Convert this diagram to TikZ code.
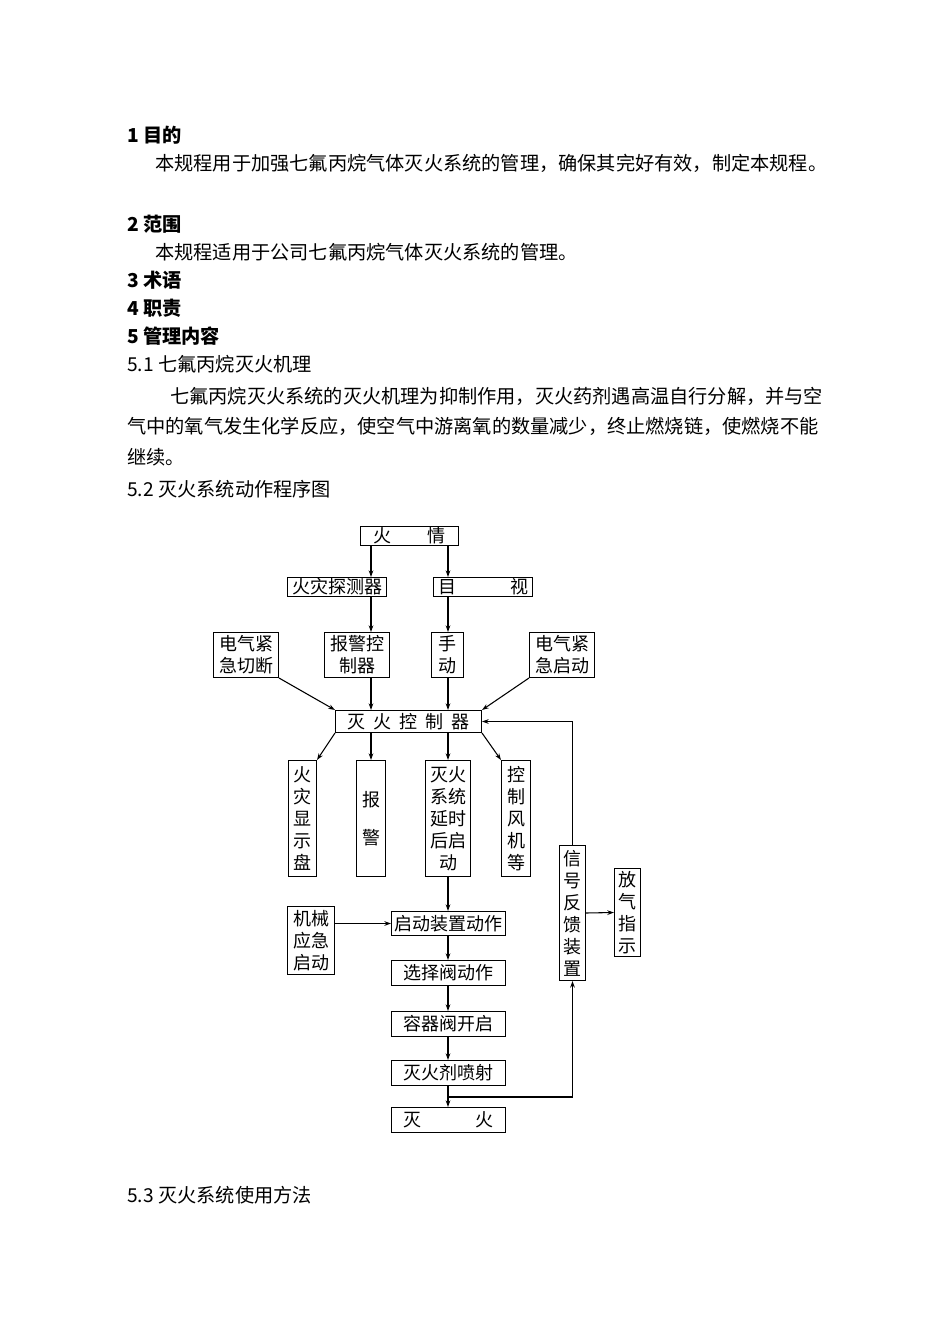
\documentclass[tikz,border=0pt]{standalone}
\usepackage{fontspec}
\setmainfont{Noto Sans CJK SC}
\usetikzlibrary{arrows.meta}
\begin{document}
\begin{tikzpicture}[x=0.75pt,y=-0.75pt,
 bx/.style={draw,line width=0.8pt,inner sep=0pt,font=\fontsize{13.5}{16.5}\selectfont,align=center},
 ar/.style={line width=0.8pt,-{Stealth[length=5pt,width=3.5pt]}},
 tx/.style={anchor=west,inner sep=0pt,font=\fontsize{14.4}{17}\selectfont},
 hd/.style={anchor=west,inner sep=0pt,font=\fontsize{14.4}{17}\selectfont\bfseries}]
\useasboundingbox (0,0) rectangle (950,1344);
\node[hd] (h1) at (127,135) {1 目的};
\node[tx] (t1) at (155,163) {本规程用于加强七氟丙烷气体灭火系统的管理，确保其完好有效，制定本规程。};
\node[hd] (h2) at (127,224) {2 范围};
\node[tx] (t2) at (155,252) {本规程适用于公司七氟丙烷气体灭火系统的管理。};
\node[hd] (h3) at (127,280) {3 术语};
\node[hd] (h4) at (127,308) {4 职责};
\node[hd] (h5) at (127,336) {5 管理内容};
\node[tx] (h51) at (127,364) {5.1 七氟丙烷灭火机理};
\node[tx] (t3) at (170,396) {七氟丙烷灭火系统的灭火机理为抑制作用，灭火药剂遇高温自行分解，并与空};
\node[tx] (t4) at (127,426) {气中的氧气发生化学反应，使空气中游离氧的数量减少，终止燃烧链，使燃烧不能};
\node[tx] (t5) at (127,457) {继续。};
\node[tx] (h52) at (127,489) {5.2 灭火系统动作程序图};
\node[tx] (h53) at (127,1195) {5.3 灭火系统使用方法};

\node[bx,minimum width=73.5pt,minimum height=14.2pt] (fq) at (409.5,536) {火\quad\quad 情};
\node[bx,minimum width=74.2pt,minimum height=14.2pt] (tc) at (337,587) {火灾探测器};
\node[bx,minimum width=74.2pt,minimum height=14.2pt] (ms) at (483,587) {目\qquad\quad 视};
\node[bx,minimum width=48.7pt,minimum height=33.7pt] (qd) at (246,655) {电气紧\\急切断};
\node[bx,minimum width=48.7pt,minimum height=33.7pt] (bj) at (357,655) {报警控\\制器};
\node[bx,minimum width=24pt,minimum height=33.7pt] (sd) at (447.5,655) {手\\动};
\node[bx,minimum width=48.7pt,minimum height=33.7pt] (qq) at (562,655) {电气紧\\急启动};
\node[bx,minimum width=109.5pt,minimum height=16.5pt] (kz) at (408.5,721.5) {灭\ \ 火\ \ 控\ \ 制\ \ 器};
\node[bx,minimum width=21pt,minimum height=87pt] (xs) at (302.5,818.5) {火\\灾\\显\\示\\盘};
\node[bx,minimum width=21.7pt,minimum height=87pt] (bw) at (371,818.5) {报\\[12pt]警};
\node[bx,minimum width=33.7pt,minimum height=87pt] (yy) at (448,818.5) {灭火\\系统\\延时\\后启\\动};
\node[bx,minimum width=21.7pt,minimum height=87pt] (fj) at (516,818.5) {控\\制\\风\\机\\等};
\node[bx,minimum width=19.5pt,minimum height=101.2pt] (xh) at (572.5,913) {信\\号\\反\\馈\\装\\置};
\node[bx,minimum width=19.5pt,minimum height=66pt] (fk) at (627.5,912.5) {放\\气\\指\\示};
\node[bx,minimum width=35.2pt,minimum height=51pt] (jx) at (311,940.5) {机械\\应急\\启动};
\node[bx,minimum width=85.5pt,minimum height=18pt] (a1) at (448.5,923.5) {启动装置动作};
\node[bx,minimum width=85.5pt,minimum height=18.7pt] (a2) at (448.5,973) {选择阀动作};
\node[bx,minimum width=85.5pt,minimum height=18.7pt] (a3) at (448.5,1024) {容器阀开启};
\node[bx,minimum width=85.5pt,minimum height=18.7pt] (a4) at (448.5,1073) {灭火剂喷射};
\node[bx,minimum width=85.5pt,minimum height=18.7pt] (a5) at (448.5,1120) {灭\qquad\quad 火};

\draw[ar] (fq.south -| 371,0) -- (tc.north -| 371,0);
\draw[ar] (fq.south -| 448,0) -- (ms.north -| 448,0);
\draw[ar] (tc.south -| 371,0) -- (bj.north -| 371,0);
\draw[ar] (ms.south -| 448,0) -- (sd.north -| 448,0);
\draw[ar] (bj.south -| 371,0) -- (kz.north -| 371,0);
\draw[ar] (sd.south -| 448,0) -- (kz.north -| 448,0);
\draw[ar] (qd.south east) -- (kz.north west);
\draw[ar] (qq.south west) -- (kz.north east);
\draw[ar] (kz.south west) -- (xs.north east);
\draw[ar] (kz.south -| 371,0) -- (bw.north);
\draw[ar] (kz.south -| 448,0) -- (yy.north);
\draw[ar] (kz.south east) -- (fj.north west);
\draw[ar] (xh.north) |- (kz.east);
\draw[ar] (yy.south) -- (a1.north -| yy.south);
\draw[ar] (jx.east |- a1) -- (a1.west);
\draw[ar] (a1.south -| 448,0) -- (a2.north -| 448,0);
\draw[ar] (a2.south -| 448,0) -- (a3.north -| 448,0);
\draw[ar] (a3.south -| 448,0) -- (a4.north -| 448,0);
\draw[ar] (a4.south -| 448,0) -- (a5.north -| 448,0);
\coordinate (br) at (448,1097);
\draw[ar] (br) -| (xh.south);
\draw[ar] (xh.east) -- (fk.west);
\end{tikzpicture}
\end{document}
